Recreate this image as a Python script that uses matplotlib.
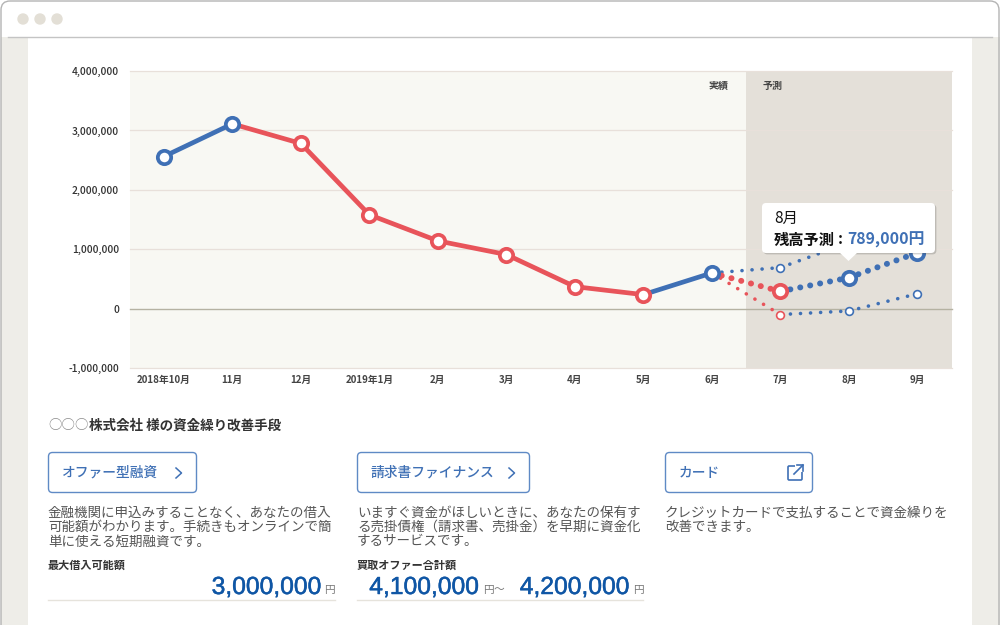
import matplotlib
matplotlib.use("Agg")
import matplotlib.pyplot as plt
from matplotlib.patches import FancyBboxPatch, Rectangle, Circle, Polygon
from matplotlib.lines import Line2D
import matplotlib.patheffects as pe

plt.rcParams['font.family'] = ['Noto Sans CJK JP', 'DejaVu Sans']

# ---- data ----
months = ['2018年10月', '11月', '12月', '2019年1月', '2月', '3月', '4月', '5月', '6月', '7月', '8月', '9月']
balance_actual = [2560000, 3110000, 2780000, 1580000, 1140000, 910000, 370000, 235000, 600000]
forecast_mid = [600000, 290000, 520000, 940000]
forecast_high = [600000, 690000, 1110000, 1500000]
forecast_low = [600000, -100000, -40000, 250000]
y_ticks = [-1000000, 0, 1000000, 2000000, 3000000, 4000000]
title_mark = '○○○'
company_title = '株式会社 様の資金繰り改善手段'
button_labels = ['オファー型融資', '請求書ファイナンス', 'カード']
desc_1 = ['金融機関に申込みすることなく、あなたの借入', '可能額がわかります。手続きもオンラインで簡', '単に使える短期融資です。']
desc_2 = ['いますぐ資金がほしいときに、あなたの保有す', 'る売掛債権（請求書、売掛金）を早期に資金化', 'するサービスです。']
desc_3 = ['クレジットカードで支払することで資金繰りを', '改善できます。']
amount_labels = ['最大借入可能額', '買取オファー合計額']
amounts = ['3,000,000', '4,100,000', '4,200,000']

BLUE = '#3f70b5'
RED = '#e8545a'
NAVY = '#0f56a5'
GRAY = '#555555'
W, H = 1000, 625

fig = plt.figure(figsize=(10, 6.25), dpi=100, facecolor='white')

# page chrome, in pixel coordinates
bg = fig.add_axes([0, 0, 1, 1], zorder=0)
bg.set_xlim(0, W); bg.set_ylim(H, 0); bg.axis('off')
bg.add_patch(Rectangle((1, 37), 27, 590, fc='#eeede8', ec='none'))
bg.add_patch(Rectangle((972, 37), 28, 590, fc='#eeede8', ec='none'))
bg.add_patch(FancyBboxPatch((1, 1), 998, 700, boxstyle='round,pad=0,rounding_size=9',
                            fc='none', ec='#b4b4b4', lw=1.0))
bg.add_line(Line2D([8, 992], [37, 37], color='#c4c4c4', lw=1.0))
for cx in (23, 40, 57):
    bg.add_patch(Circle((cx, 19), 5.7, fc='#e3dfd6', ec='none'))

# chart
ax = fig.add_axes([129.6 / W, 1 - 368 / H, 822 / W, 297 / H], zorder=1)
ax.set_facecolor('#f8f8f3')
ax.set_xlim(-0.5, 11.5)
ax.set_ylim(-1000000, 4000000)
for s in ax.spines.values():
    s.set_visible(False)
ax.axvspan(8.5, 11.5, color='#e4e0d9', lw=0, zorder=0.5)
for v in y_ticks:
    c = '#b5b2a2' if v == 0 else '#e8e0da'
    ax.axhline(v, color=c, lw=1.0 if v == 0 else 0.9, zorder=1, clip_on=False)
ax.set_yticks(y_ticks)
ax.set_yticklabels([f'{v:,}' for v in y_ticks], fontsize=7.4, fontweight='medium', color='#333333')
ax.set_xticks(range(len(months)))
ax.set_xticklabels(months, fontsize=7.0, fontweight='bold', color='#444444')
ax.tick_params(length=0)
ax.tick_params(axis='y', pad=7.5)
ax.tick_params(axis='x', pad=5)


def seg(xs, ys, color, lw=3.4):
    ax.plot(xs, ys, color=color, lw=lw, solid_capstyle='butt', zorder=3)


def dotted(xs, ys, color, lw):
    ax.plot(xs, ys, color=color, lw=lw, dash_capstyle='round',
            linestyle=(0, (0.02, 7.2 / lw)), zorder=2.5)


def mark(x, y, color, big=True):
    ms, mew = (9.6, 2.7) if big else (5.6, 1.2)
    ax.plot([x], [y], 'o', ms=ms, mfc='white', mec=color, mew=mew, zorder=4)


# forecast dotted lines
for series, lw in ((forecast_high, 2.6), (forecast_low, 2.6), (forecast_mid, 4.3)):
    cols = [RED if series[i + 1] < series[i] else BLUE for i in range(3)]
    for i in range(3):
        dotted([8 + i, 9 + i], series[i:i + 2], cols[i], lw)

# actual line: blue when rising, red when falling
for i in range(len(balance_actual) - 1):
    a, b = balance_actual[i], balance_actual[i + 1]
    seg([i, i + 1], [a, b], BLUE if b > a else RED)
for i, v in enumerate(balance_actual):
    prev_fall = i > 0 and v < balance_actual[i - 1]
    mark(i, v, RED if prev_fall else BLUE)
mark(9, forecast_mid[1], RED)
mark(10, forecast_mid[2], BLUE)
mark(11, forecast_mid[3], BLUE)
mark(9, forecast_high[1], BLUE, big=False)
mark(10, forecast_high[2], BLUE, big=False)
mark(11, forecast_high[3], BLUE, big=False)
mark(9, forecast_low[1], RED, big=False)
mark(10, forecast_low[2], BLUE, big=False)
mark(11, forecast_low[3], BLUE, big=False)

# overlay: labels, tooltip and lower panel
fg = fig.add_axes([0, 0, 1, 1], zorder=2)
fg.set_xlim(0, W); fg.set_ylim(H, 0); fg.axis('off'); fg.patch.set_alpha(0)


def txt(x, y, s, size, color=GRAY, weight='normal', ha='left'):
    return fg.text(x, y, s, fontsize=size, color=color, fontweight=weight, ha=ha, va='center')


txt(719, 86, '実績', 7.2, '#444444', 'bold', 'center')
txt(773, 86, '予測', 7.2, '#444444', 'bold', 'center')

# tooltip
shadow = [pe.SimplePatchShadow(offset=(1, -1), alpha=0.25), pe.Normal()]
fg.add_patch(FancyBboxPatch((762, 203), 173, 50, boxstyle='round,pad=0,rounding_size=4',
                            fc='white', ec='none', path_effects=shadow))
fg.add_patch(Polygon([[839, 252], [858, 252], [848.5, 261]], closed=True, fc='white', ec='none'))
txt(774, 218, '8月', 11, '#111111')
txt(774, 240, '残高予測', 11, '#111111', 'bold')
txt(838, 239, ':', 11, '#111111', 'bold')
txt(847.5, 240, '789,000円', 11.4, BLUE, 'bold')

# lower panel
txt(48, 425.5, title_mark, 9.75, '#8a8a8a')
txt(89, 425.5, company_title, 9.75, '#333333', 'bold')

buttons = [(48, 149), (357, 173), (665, 148)]
for (bx, bw), label in zip(buttons, button_labels):
    fg.add_patch(FancyBboxPatch((bx + 0.5, 452.5), bw - 1, 40, boxstyle='round,pad=0,rounding_size=4',
                                fc='white', ec='#5f8ac5', lw=1.0))
    txt(bx + 13.5, 472.5, label, 9.9, BLUE, 'medium')

# chevrons and external-link icon
for cx in (176, 509):
    fg.add_line(Line2D([cx, cx + 5.5, cx], [468, 473, 478], color=BLUE, lw=1.1))
fg.add_patch(FancyBboxPatch((788, 466), 14, 14, boxstyle='round,pad=0,rounding_size=1.2',
                            fc='white', ec=BLUE, lw=1.2))
fg.add_patch(Rectangle((795, 463), 9, 9, fc='white', ec='none'))
fg.add_line(Line2D([794, 803], [474, 465], color=BLUE, lw=1.2))
fg.add_line(Line2D([797, 803, 803], [465, 465, 471], color=BLUE, lw=1.2))

for x0, lines in ((48, desc_1), (357, desc_2), (665, desc_3)):
    for i, line in enumerate(lines):
        txt(x0, 512.5 + i * 14.5, line, 9.74, GRAY)

txt(48, 565, amount_labels[0], 8.0, '#333333', 'bold')
txt(357, 565, amount_labels[1], 8.0, '#333333', 'bold')

num_font = 'Liberation Sans'
thick = [pe.withStroke(linewidth=0.35, foreground=NAVY)]
for right, value, yen in ((321.5, amounts[0], 324.5), (479, amounts[1], 483), (629.5, amounts[2], 633)):
    fg.text(right, 587, value, fontsize=17.75, color=NAVY, ha='right', va='center',
            family=num_font, path_effects=thick)
    txt(yen, 590.5, '円', 7.7, '#777777')
txt(494, 590.5, '〜', 7.7, '#777777')

for x0, x1 in ((48, 335), (357, 643)):
    fg.add_line(Line2D([x0, x1], [600, 600], color='#e6e3dc', lw=1.0))

fig.savefig('out.png', dpi=100, facecolor='white')
